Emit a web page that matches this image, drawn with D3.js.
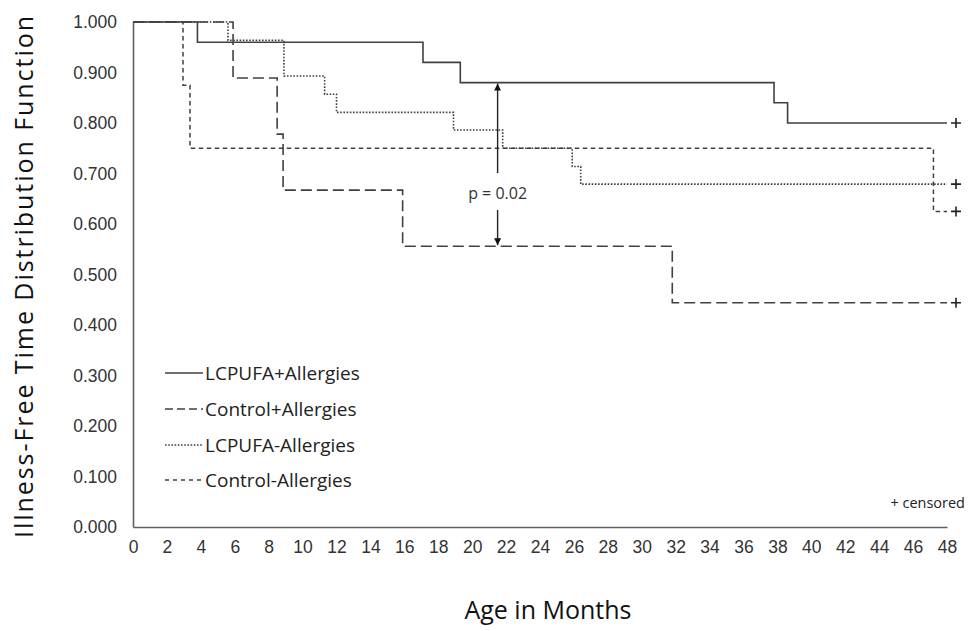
<!DOCTYPE html>
<html>
<head>
<meta charset="utf-8">
<script src="https://cdn.jsdelivr.net/npm/d3@7"></script>
<style>
  html, body { margin: 0; padding: 0; background: #fff; }
  svg { display: block; }
</style>
</head>
<body>
<svg id="chart" width="968" height="631"></svg>
<script>
// ---- data ----
const seriesNames = ["LCPUFA+Allergies", "Control+Allergies", "LCPUFA-Allergies", "Control-Allergies"];
const lcpufaAllergyTimes = [0, 3.8, 17.1, 19.3, 37.8, 38.6];
const lcpufaAllergySurv  = [1.000, 0.960, 0.920, 0.880, 0.840, 0.800];
const controlAllergyTimes = [0, 5.9, 8.5, 8.85, 15.9, 31.8];
const controlAllergySurv  = [1.000, 0.889, 0.778, 0.667, 0.556, 0.444];
const lcpufaNoAllergyTimes = [0, 5.6, 8.9, 11.3, 12.0, 18.9, 21.8, 25.9, 26.4];
const lcpufaNoAllergySurv  = [1.000, 0.964, 0.893, 0.857, 0.821, 0.786, 0.750, 0.714, 0.679];
const controlNoAllergyTimes = [0, 2.95, 3.36, 47.2];
const controlNoAllergySurv  = [1.000, 0.875, 0.750, 0.625];
const censorTime = 48;
const xTicks = d3.range(0, 49, 2);
const yTicks = [0, 0.1, 0.2, 0.3, 0.4, 0.5, 0.6, 0.7, 0.8, 0.9, 1.0];
const pLabel = "p = 0.02";
const pTime = 21.5;
const pFrom = 0.880, pTo = 0.556;

// ---- layout ----
const svg = d3.select("#chart");
const x = d3.scaleLinear().domain([0, 48]).range([133, 947]);
const y = d3.scaleLinear().domain([0, 1]).range([527, 22]);
const ink = "#404040";

// axes
const xAxis = d3.axisBottom(x).tickValues(xTicks).tickSize(0).tickPadding(14).tickFormat(d3.format("d"));
const yAxis = d3.axisLeft(y).tickValues(yTicks).tickSize(0).tickPadding(16).tickFormat(d3.format(".3f"));
const gx = svg.append("g").attr("transform", "translate(0,527)").call(xAxis);
const gy = svg.append("g").attr("transform", "translate(133,0)").call(yAxis);
[gx, gy].forEach(g => {
  g.select(".domain").attr("stroke", "#606060").attr("stroke-width", 1.6);
  g.selectAll("text").attr("font-family", "Liberation Sans, Arial, sans-serif")
    .attr("font-size", 17.5).attr("fill", "#333");
});

// series
const series = [
  { t: lcpufaAllergyTimes, s: lcpufaAllergySurv, dash: null, w: 1.6 },
  { t: controlAllergyTimes, s: controlAllergySurv, dash: "11,5", w: 1.6 },
  { t: lcpufaNoAllergyTimes, s: lcpufaNoAllergySurv, dash: "1.6,1.6", w: 1.6 },
  { t: controlNoAllergyTimes, s: controlNoAllergySurv, dash: "4.5,3.5", w: 1.5 }
];
const line = d3.line().x(d => x(d[0])).y(d => y(d[1])).curve(d3.curveStepAfter);
const order = [3, 2, 1, 0];
order.forEach(i => {
  const sr = series[i];
  const pts = sr.t.map((t, k) => [t, sr.s[k]]);
  pts.push([censorTime, sr.s[sr.s.length - 1]]);
  svg.append("path").attr("d", line(pts)).attr("fill", "none")
    .attr("stroke", ink).attr("stroke-width", sr.w)
    .attr("stroke-dasharray", sr.dash);
});

// censor marks
series.forEach(sr => {
  const cx = x(censorTime) + 9, cy = y(sr.s[sr.s.length - 1]);
  svg.append("path").attr("d", `M${cx - 5},${cy}H${cx + 5}M${cx},${cy - 5}V${cy + 5}`)
    .attr("stroke", "#222").attr("stroke-width", 1.6);
});

// p-value annotation
const defs = svg.append("defs");
defs.append("marker").attr("id", "arr").attr("viewBox", "0 0 10 10")
  .attr("refX", 10).attr("refY", 5).attr("markerWidth", 7).attr("markerHeight", 7)
  .attr("markerUnits", "userSpaceOnUse").attr("orient", "auto")
  .append("path").attr("d", "M0,0L10,5L0,10Z").attr("fill", "#111");
const px = x(pTime);
svg.append("line").attr("x1", px).attr("x2", px).attr("y1", 173).attr("y2", y(pFrom) + 1)
  .attr("stroke", "#222").attr("stroke-width", 1.4).attr("marker-end", "url(#arr)");
svg.append("line").attr("x1", px).attr("x2", px).attr("y1", 210).attr("y2", y(pTo) - 1)
  .attr("stroke", "#222").attr("stroke-width", 1.4).attr("marker-end", "url(#arr)");
svg.append("text").attr("x", px).attr("y", 199).attr("text-anchor", "middle")
  .attr("font-family", "Open Sans, sans-serif").attr("font-size", 16).attr("fill", "#333")
  .text(pLabel);

// legend
const legY = [373, 409, 445, 480];
seriesNames.forEach((name, i) => {
  const sr = series[i];
  svg.append("line").attr("x1", 165).attr("x2", 203).attr("y1", legY[i]).attr("y2", legY[i])
    .attr("stroke", ink).attr("stroke-width", 1.5)
    .attr("stroke-dasharray", i === 1 ? "8,4" : i === 3 ? "4,4" : sr.dash);
  svg.append("text").attr("x", 205).attr("y", legY[i] + 7)
    .attr("font-family", "Open Sans, sans-serif").attr("font-size", 19).attr("fill", "#222")
    .text(name);
});

// censored note
svg.append("text").attr("x", 965).attr("y", 508).attr("text-anchor", "end")
  .attr("font-family", "Open Sans, sans-serif").attr("font-size", 14.5).attr("fill", "#222")
  .text("+ censored");

// axis titles
svg.append("text").attr("transform", "translate(33,277) rotate(-90)")
  .attr("text-anchor", "middle").attr("font-family", "Open Sans, sans-serif")
  .attr("font-size", 25).attr("fill", "#111")
  .attr("textLength", 522).attr("lengthAdjust", "spacing")
  .text("Illness-Free Time Distribution Function");
svg.append("text").attr("x", 548).attr("y", 619).attr("text-anchor", "middle")
  .attr("font-family", "Open Sans, sans-serif").attr("font-size", 25).attr("fill", "#111")
  .text("Age in Months");
</script>
</body>
</html>
